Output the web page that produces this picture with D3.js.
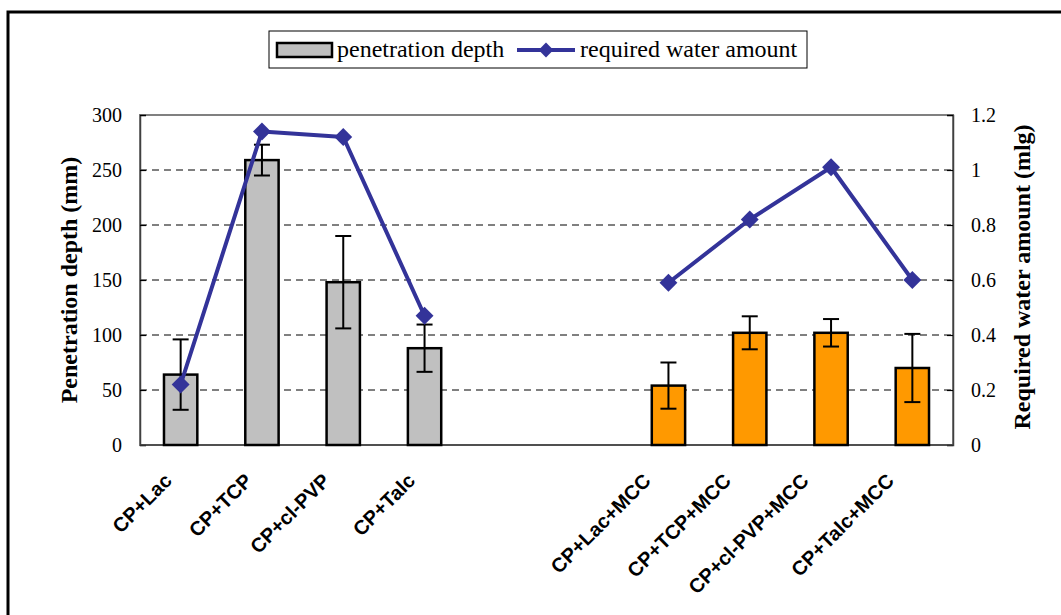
<!DOCTYPE html>
<html>
<head>
<meta charset="utf-8">
<script src="https://cdn.jsdelivr.net/npm/d3@7"></script>
<style>
  body { margin: 0; background: #fff; }
  svg { display: block; }
</style>
</head>
<body>
<div id="container"></div>
<script>
/* CONSTANTS AND GLOBALS */
const width = 1061,
  height = 615,
  margin = { top: 115, bottom: 170, left: 140, right: 108 };

/* DATA */
const categories = ["CP+Lac", "CP+TCP", "CP+cl-PVP", "CP+Talc", "", "",
  "CP+Lac+MCC", "CP+TCP+MCC", "CP+cl-PVP+MCC", "CP+Talc+MCC"];
const depth = [64, 259, 148, 88, null, null, 54, 102, 102, 70];
const depthErr = [32, 14, 42, 21.5, null, null, 21, 15, 12.5, 31];
const water = [0.22, 1.14, 1.12, 0.47, null, null, 0.59, 0.82, 1.01, 0.60];
const depthTicks = [0, 50, 100, 150, 200, 250, 300];
const waterTicks = [0, 0.2, 0.4, 0.6, 0.8, 1, 1.2];

const rows = categories.map((c, i) => ({
  i, label: c, depth: depth[i], err: depthErr[i], water: water[i]
}));

// SCALES
const xScale = d3.scaleBand()
  .domain(d3.range(categories.length))
  .range([margin.left, width - margin.right])
  .paddingInner(0.59)
  .paddingOuter(0.295);

const yScale = d3.scaleLinear()
  .domain([0, 300])
  .range([height - margin.bottom, margin.top]);

const y2Scale = d3.scaleLinear()
  .domain([0, 1.2])
  .range([height - margin.bottom, margin.top]);

// CREATE SVG ELEMENT
const svg = d3.select("#container")
  .append("svg")
  .attr("width", width)
  .attr("height", height)
  .style("background-color", "white");

// outer chart border (runs off the right / bottom)
svg.append("rect")
  .attr("x", 8).attr("y", 12)
  .attr("width", 1200).attr("height", 800)
  .attr("fill", "none")
  .attr("stroke", "black")
  .attr("stroke-width", 3);

const x0 = margin.left, x1 = width - margin.right;
const yb = height - margin.bottom;

// GRIDLINES
svg.selectAll(".grid")
  .data(depthTicks.filter(d => d > 0 && d < 300))
  .join("line")
  .attr("class", "grid")
  .attr("x1", x0).attr("x2", x1)
  .attr("y1", d => yScale(d)).attr("y2", d => yScale(d))
  .attr("stroke", "black")
  .attr("stroke-width", 1)
  .attr("stroke-dasharray", "7,5");

// plot frame
svg.append("rect")
  .attr("x", x0).attr("y", margin.top)
  .attr("width", x1 - x0).attr("height", yb - margin.top)
  .attr("fill", "none")
  .attr("stroke", "#808080")
  .attr("stroke-width", 2);

// AXES
const yAxis = d3.axisLeft(yScale)
  .tickValues(depthTicks)
  .tickSize(-6)
  .tickPadding(18)
  .tickFormat(d3.format("d"));

const yAxisGroup = svg.append("g")
  .attr("class", "yAxis")
  .attr("transform", `translate(${x0}, 0)`)
  .call(yAxis);

const y2Axis = d3.axisRight(y2Scale)
  .tickValues(waterTicks)
  .tickSize(-6)
  .tickPadding(18)
  .tickFormat(d => String(+d.toFixed(1)));

const y2AxisGroup = svg.append("g")
  .attr("class", "y2Axis")
  .attr("transform", `translate(${x1}, 0)`)
  .call(y2Axis);

[yAxisGroup, y2AxisGroup].forEach(g => {
  g.select(".domain").attr("stroke", "#404040").attr("stroke-width", 1.5);
  g.selectAll(".tick line").attr("stroke", "black").attr("stroke-width", 1.2);
  g.selectAll(".tick text")
    .attr("font-family", "'Liberation Serif', 'Times New Roman', serif")
    .attr("font-size", 20)
    .attr("fill", "black");
});

// bottom axis line
svg.append("line")
  .attr("x1", x0).attr("x2", x1)
  .attr("y1", yb).attr("y2", yb)
  .attr("stroke", "#404040")
  .attr("stroke-width", 1.5);

// AXIS TITLES
svg.append("text")
  .attr("transform", `translate(${77}, ${280}) rotate(-90)`)
  .attr("text-anchor", "middle")
  .attr("font-family", "'Liberation Serif', 'Times New Roman', serif")
  .attr("font-weight", "bold")
  .attr("font-size", 24)
  .text("Penetration depth (mm)");

svg.append("text")
  .attr("transform", `translate(${1030}, ${277}) rotate(-90)`)
  .attr("text-anchor", "middle")
  .attr("font-family", "'Liberation Serif', 'Times New Roman', serif")
  .attr("font-weight", "bold")
  .attr("font-size", 24)
  .text("Required water amount (mlg)");

// BARS
const barData = rows.filter(d => d.depth != null);

svg.selectAll(".bar")
  .data(barData)
  .join("rect")
  .attr("class", "bar")
  .attr("x", d => xScale(d.i))
  .attr("y", d => yScale(d.depth))
  .attr("width", xScale.bandwidth())
  .attr("height", d => yb - yScale(d.depth))
  .attr("fill", d => d.label.includes("MCC") ? "#FF9900" : "#C0C0C0")
  .attr("stroke", "black")
  .attr("stroke-width", 2.5);

// ERROR BARS
const cx = d => xScale(d.i) + xScale.bandwidth() / 2;
const capW = 8;
const errG = svg.selectAll(".err")
  .data(barData)
  .join("g")
  .attr("class", "err")
  .attr("stroke", "black")
  .attr("stroke-width", 2);

errG.append("line")
  .attr("x1", cx).attr("x2", cx)
  .attr("y1", d => yScale(d.depth + d.err))
  .attr("y2", d => yScale(d.depth - d.err));
errG.append("line")
  .attr("x1", d => cx(d) - capW).attr("x2", d => cx(d) + capW)
  .attr("y1", d => yScale(d.depth + d.err))
  .attr("y2", d => yScale(d.depth + d.err));
errG.append("line")
  .attr("x1", d => cx(d) - capW).attr("x2", d => cx(d) + capW)
  .attr("y1", d => yScale(d.depth - d.err))
  .attr("y2", d => yScale(d.depth - d.err));

// LINE
const lineGen = d3.line()
  .defined(d => d.water != null)
  .x(cx)
  .y(d => y2Scale(d.water));

svg.append("path")
  .datum(rows)
  .attr("fill", "none")
  .attr("stroke", "#333399")
  .attr("stroke-width", 4)
  .attr("stroke-linejoin", "round")
  .attr("d", lineGen);

const diamond = d3.symbol(d3.symbolSquare, 160);
svg.selectAll(".marker")
  .data(rows.filter(d => d.water != null))
  .join("path")
  .attr("class", "marker")
  .attr("transform", d => `translate(${cx(d)}, ${y2Scale(d.water)}) rotate(45)`)
  .attr("d", diamond)
  .attr("fill", "#333399");

// CATEGORY LABELS
const labels = svg.selectAll(".cat")
  .data(rows.filter(d => d.label !== ""))
  .join("text")
  .attr("class", "cat")
  .attr("text-anchor", "end")
  .attr("font-family", "'Liberation Sans', Arial, sans-serif")
  .attr("font-weight", "bold")
  .attr("font-size", 20)
  .text(d => d.label);

labels.attr("transform", function (d) {
  const len = this.getComputedTextLength();
  return `translate(${cx(d) + 4 - 0.157 * len}, ${482}) rotate(-45)`;
});

// LEGEND
const legend = svg.append("g").attr("class", "legend");
legend.append("rect")
  .attr("x", 269).attr("y", 31)
  .attr("width", 538).attr("height", 37)
  .attr("fill", "white")
  .attr("stroke", "black")
  .attr("stroke-width", 1);
legend.append("rect")
  .attr("x", 277).attr("y", 43)
  .attr("width", 55).attr("height", 14)
  .attr("fill", "#C0C0C0")
  .attr("stroke", "black")
  .attr("stroke-width", 2.5);
legend.append("text")
  .attr("x", 337).attr("y", 57)
  .attr("font-family", "'Liberation Serif', 'Times New Roman', serif")
  .attr("font-size", 24)
  .text("penetration depth");
legend.append("line")
  .attr("x1", 517).attr("x2", 575)
  .attr("y1", 50).attr("y2", 50)
  .attr("stroke", "#333399")
  .attr("stroke-width", 4);
legend.append("path")
  .attr("transform", `translate(${546}, ${50}) rotate(45)`)
  .attr("d", d3.symbol(d3.symbolSquare, 110))
  .attr("fill", "#333399");
legend.append("text")
  .attr("x", 580).attr("y", 57)
  .attr("font-family", "'Liberation Serif', 'Times New Roman', serif")
  .attr("font-size", 24)
  .text("required water amount");
</script>
</body>
</html>
